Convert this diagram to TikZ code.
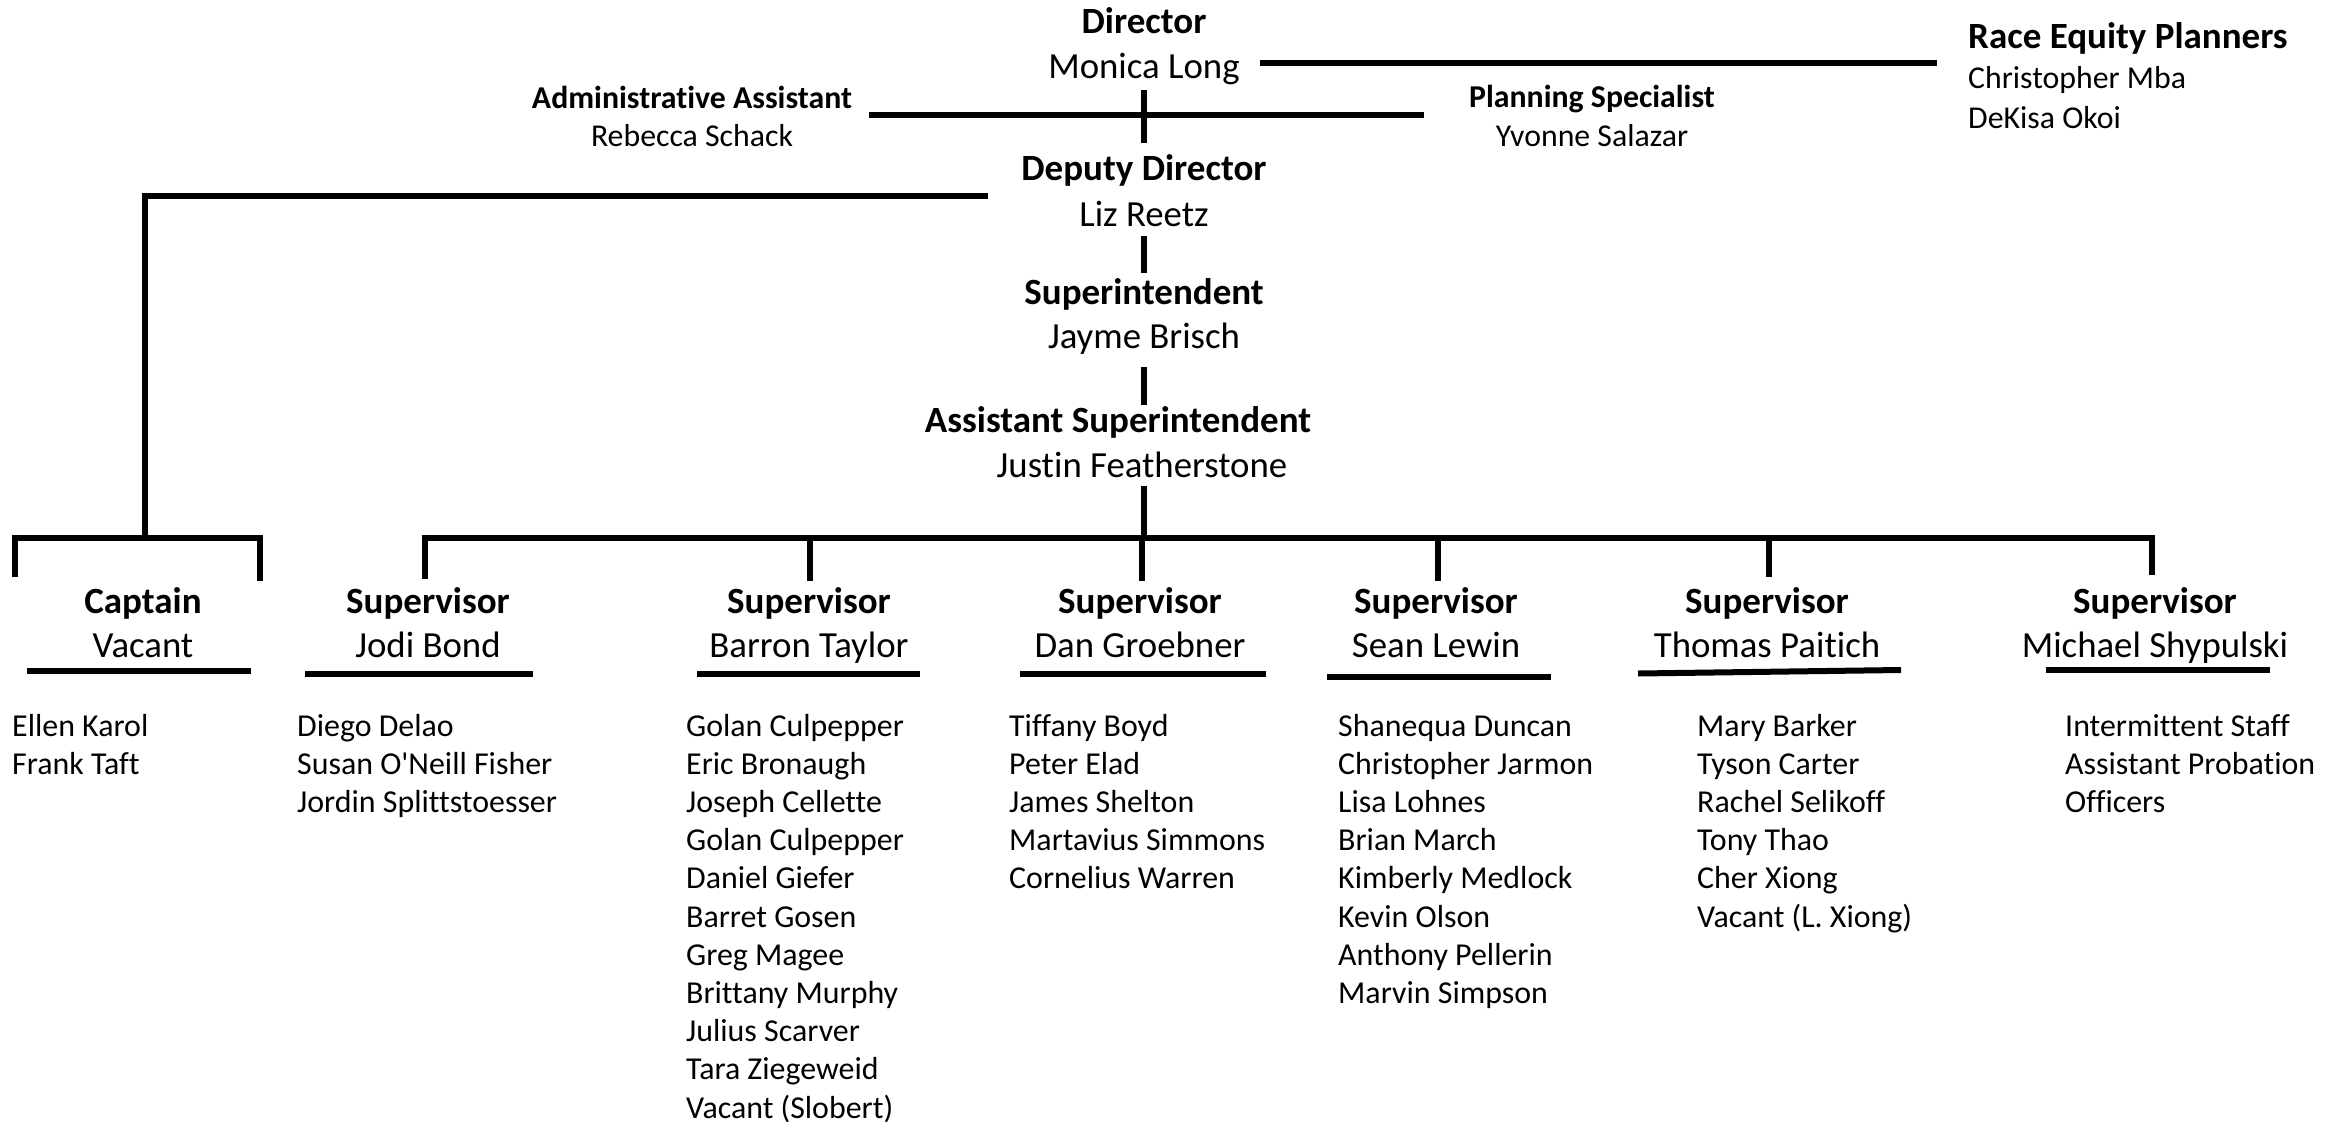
\documentclass[tikz,border=0pt]{standalone}
\usepackage{fontspec}
\setmainfont{Carlito}[Ligatures={TeX,NoCommon}]
\begin{document}
\begin{tikzpicture}[x=1pt,y=-1pt]
\tikzset{
  rolebold/.style={font=\fontsize{37}{44}\selectfont\bfseries, inner sep=0pt, anchor=base},
  person/.style={font=\fontsize{36.8}{44}\selectfont, inner sep=0pt, anchor=base},
  smallbold/.style={font=\fontsize{31.8}{38}\selectfont\bfseries, inner sep=0pt, anchor=base},
  smallperson/.style={font=\fontsize{31.8}{38}\selectfont, inner sep=0pt, anchor=base},
  staff/.style={font=\fontsize{31.9}{38}\selectfont, inner sep=0pt, anchor=base west},
  conn/.style={line width=6pt, line join=miter},
}
\newcommand\stafflist[3]{\foreach \n [count=\i] in {#3} \node[staff] (#1-\i) at (#2, {736+38.2*(\i-1)}) {\n};}
\useasboundingbox (0,0) rectangle (2338,1122);

% top of chart
\node[rolebold] (dirT) at (1144,33.5) {Director};
\node[person] (dirN) at (1144,78) {Monica Long};
\node[rolebold, anchor=base west] (reT) at (1968,48) {Race Equity Planners};
\node[smallperson, anchor=base west] (re1) at (1968,88.6) {Christopher Mba};
\node[smallperson, anchor=base west] (re2) at (1968,128) {DeKisa Okoi};
\node[smallbold] (admT) at (692,108) {Administrative Assistant};
\node[smallperson] (admN) at (692,146.5) {Rebecca Schack};
\node[smallbold] (plT) at (1592,107) {Planning Specialist};
\node[smallperson] (plN) at (1592,146) {Yvonne Salazar};
\node[rolebold] (depT) at (1144,180) {Deputy Director};
\node[person] (depN) at (1144,226) {Liz Reetz};
\node[rolebold] (supT) at (1144,304) {Superintendent};
\node[person] (supN) at (1144,348) {Jayme Brisch};
\node[rolebold] (asT) at (1118,432) {Assistant Superintendent};
\node[person] (asN) at (1142,477.5) {Justin Featherstone};

% coordinates
\coordinate (reL) at (1260,63);
\coordinate (reR) at (1937,63);
\coordinate (admL) at (869,115);
\coordinate (plR) at (1424,115);
\coordinate (dirB) at (1144,90);
\coordinate (depTop) at (1144,143);
\coordinate (capR) at (988,196);
\coordinate (capC) at (145,196);
\coordinate (capBus) at (145,538);
\coordinate (depB) at (1144,236);
\coordinate (supTop) at (1144,273);
\coordinate (supB) at (1144,367);
\coordinate (asTop) at (1144,405);
\coordinate (asB) at (1144,486);
\coordinate (busM) at (1144,538);

\draw[conn] (reL) -- (reR);
\draw[conn] (admL) -- (plR);
\draw[conn] (dirB) -- (depTop);
\draw[conn] (capR) -- (capC) -- (capBus);
\draw[conn] (depB) -- (supTop);
\draw[conn] (supB) -- (asTop);
\draw[conn] (asB) -- (busM);

% captain branch
\draw[conn] (15,577) -- (15,538) -- (260,538) -- (260,581);
% main bus
\draw[conn] (425,579) -- (425,538) -- (2152,538) -- (2152,575);
\foreach \dx/\dy in {810/581, 1142/581, 1438/581, 1769/577}
  \draw[conn] (\dx,538) -- (\dx,\dy);

% second level headings
\node[rolebold] (c1T) at (143,613) {Captain};
\node[person] (c1N) at (143,657) {Vacant};
\node[rolebold] (s1T) at (428,613) {Supervisor};
\node[person] (s1N) at (428,657) {Jodi Bond};
\node[rolebold] (s2T) at (809,613) {Supervisor};
\node[person] (s2N) at (809,657) {Barron Taylor};
\node[rolebold] (s3T) at (1140,613) {Supervisor};
\node[person] (s3N) at (1140,657) {Dan Groebner};
\node[rolebold] (s4T) at (1436,613) {Supervisor};
\node[person] (s4N) at (1436,657) {Sean Lewin};
\node[rolebold] (s5T) at (1767,613) {Supervisor};
\node[person] (s5N) at (1767,657) {Thomas Paitich};
\node[rolebold] (s6T) at (2155,613) {Supervisor};
\node[person] (s6N) at (2155,657) {Michael Shypulski};

% underlines
\draw[conn] (27,671) -- (251,671);
\draw[conn] (305,674) -- (533,674);
\draw[conn] (697,674) -- (920,674);
\draw[conn] (1020,674) -- (1266,674);
\draw[conn] (1327,677) -- (1551,677);
\draw[conn] (1638,673.5) -- (1901,670);
\draw[conn] (2046,670) -- (2270,670);

% staff lists
\stafflist{cap}{12}{Ellen Karol, Frank Taft}
\stafflist{jb}{297}{Diego Delao, Susan O\textquotesingle Neill Fisher, Jordin Splittstoesser}
\stafflist{bt}{686}{Golan Culpepper, Eric Bronaugh, Joseph Cellette, Golan Culpepper, Daniel Giefer, Barret Gosen, Greg Magee, Brittany Murphy, Julius Scarver, Tara Ziegeweid, Vacant (Slobert)}
\stafflist{dg}{1009}{Tiffany Boyd, Peter Elad, James Shelton, Martavius Simmons, Cornelius Warren}
\stafflist{sl}{1338}{Shanequa Duncan, Christopher Jarmon, Lisa Lohnes, Brian March, Kimberly Medlock, Kevin Olson, Anthony Pellerin, Marvin Simpson}
\stafflist{tp}{1697}{Mary Barker, Tyson Carter, Rachel Selikoff, Tony Thao, Cher Xiong, Vacant (L. Xiong)}
\stafflist{ms}{2065}{Intermittent Staff, Assistant Probation, Officers}
\end{tikzpicture}
\end{document}
